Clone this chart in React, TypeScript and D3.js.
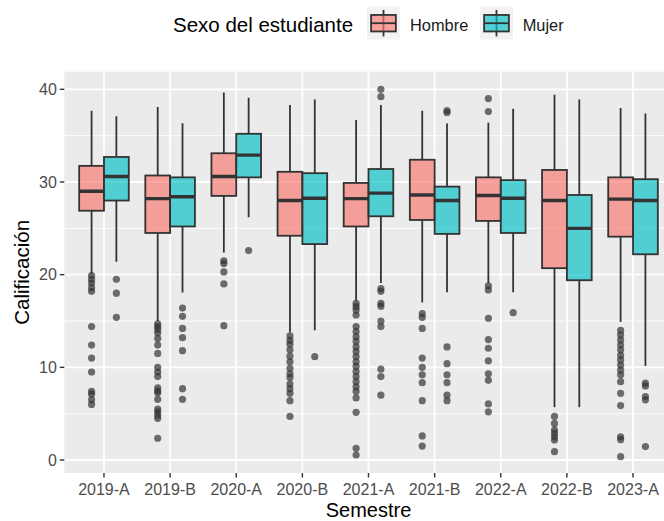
import React from "react";
import * as d3 from "d3";

const semestres = ["2019-A", "2019-B", "2020-A", "2020-B", "2021-A", "2021-B", "2022-A", "2022-B", "2023-A"];
const sexos = ["Hombre", "Mujer"];
const colores = ["#F8766D", "#00BFC4"];
const yTicks = [0, 10, 20, 30, 40];
const yMinor = [5, 15, 25, 35];

// Hombre
const hombreLow = [20.1, 15.0, 22.4, 13.8, 17.2, 17.0, 19.1, 5.7, 14.9];
const hombreQ1 = [26.9, 24.5, 28.5, 24.2, 25.2, 25.9, 25.8, 20.7, 24.1];
const hombreMed = [29.0, 28.2, 30.6, 28.0, 28.2, 28.6, 28.55, 28.0, 28.15];
const hombreQ3 = [31.74, 30.7, 33.1, 31.1, 29.9, 32.4, 30.5, 31.3, 30.5];
const hombreHigh = [37.7, 38.1, 39.66, 38.3, 36.7, 37.7, 36.4, 39.4, 37.97];
const hombreOut = [
  [19.9, 19.5, 19.1, 18.6, 18.2, 14.4, 12.4, 11.0, 9.5, 7.4, 7.1, 6.5, 6.0],
  [14.7, 14.4, 14.1, 13.7, 13.1, 12.4, 11.5, 10.0, 9.5, 9.0, 7.8, 7.45, 7.27, 6.55, 5.5, 5.2, 4.86, 4.5, 2.35],
  [21.5, 21.2, 20.3, 19.0, 14.5],
  [13.4, 12.9, 12.5, 11.9, 11.2, 10.6, 9.9, 9.3, 8.9, 8.2, 7.7, 7.2, 6.4, 4.7],
  [16.9, 16.55, 16.2, 15.65, 14.4, 13.85, 13.3, 12.8, 12.2, 11.7, 11.15, 10.6, 10.1, 9.55, 9.0, 8.45, 7.9, 7.4, 6.7, 5.15, 1.26, 0.54],
  [15.8, 15.4, 14.2, 11.0, 10.0, 9.2, 8.35, 6.4, 2.6, 1.5],
  [39.0, 37.6, 18.8, 18.35, 15.3, 13.0, 12.06, 10.7, 9.3, 8.6, 6.05, 5.2],
  [4.7, 3.95, 3.24, 2.9, 2.5, 2.16, 0.9],
  [14.0, 13.5, 12.95, 12.4, 11.9, 11.3, 10.8, 10.25, 9.7, 9.2, 8.45, 7.2, 5.87, 2.5, 2.2, 0.36],
];

// Mujer
const mujerLow = [21.4, 18.07, 26.2, 14.0, 19.1, 18.1, 18.1, 5.7, 10.15];
const mujerQ1 = [28.0, 25.2, 30.5, 23.3, 26.3, 24.4, 24.5, 19.4, 22.2];
const mujerMed = [30.6, 28.4, 32.9, 28.25, 28.8, 28.0, 28.25, 25.0, 28.0];
const mujerQ3 = [32.7, 30.5, 35.2, 30.95, 31.4, 29.5, 30.2, 28.6, 30.3];
const mujerHigh = [37.1, 36.35, 39.1, 38.9, 38.3, 36.3, 37.9, 38.9, 37.4];
const mujerOut = [
  [19.5, 18.0, 15.4],
  [16.4, 15.5, 14.2, 13.2, 11.8, 7.7, 6.55],
  [22.6],
  [11.15],
  [40.0, 39.2, 18.5, 18.2, 16.9, 16.6, 15.0, 14.4, 9.8, 9.0, 7.0],
  [37.7, 37.5, 12.2, 10.4, 9.2, 8.35, 7.0, 6.4],
  [15.9],
  [],
  [8.3, 8.0, 6.85, 6.5, 1.45],
];

const groups = [
  { low: hombreLow, q1: hombreQ1, med: hombreMed, q3: hombreQ3, high: hombreHigh, out: hombreOut },
  { low: mujerLow, q1: mujerQ1, med: mujerMed, q3: mujerQ3, high: mujerHigh, out: mujerOut },
];

const W = 664;
const H = 521;
const panel = { left: 64.3, right: 672.7, top: 71.7, bottom: 473 };
const FONT = "'Liberation Sans', Arial, Helvetica, sans-serif";

export default function App() {
  const x = d3.scalePoint<string>().domain(semestres).range([panel.left, panel.right]).padding(0.6);
  const y = d3.scaleLinear().domain([-1.4, 41.9]).range([panel.bottom, panel.top]);
  const step = x.step();
  const dodge = d3.scaleBand<string>().domain(sexos).range([-0.375 * step, 0.375 * step]);
  const bw = dodge.bandwidth();
  const boxStroke = "#333333";

  return (
    <svg width={W} height={H} style={{ position: "absolute", left: 0, top: 0, background: "#fff" }} fontFamily={FONT}>
      <defs>
        <clipPath id="pclip">
          <rect x={panel.left} y={panel.top} width={panel.right - panel.left} height={panel.bottom - panel.top} />
        </clipPath>
      </defs>
      <rect x={panel.left} y={panel.top} width={panel.right - panel.left} height={panel.bottom - panel.top} fill="#EBEBEB" />
      <g clipPath="url(#pclip)">
        {yMinor.map((t) => (
          <line key={"mn" + t} x1={panel.left} x2={panel.right} y1={y(t)} y2={y(t)} stroke="#fff" strokeWidth={0.9} />
        ))}
        {yTicks.map((t) => (
          <line key={"mj" + t} x1={panel.left} x2={panel.right} y1={y(t)} y2={y(t)} stroke="#fff" strokeWidth={1.8} />
        ))}
        {semestres.map((s) => (
          <line key={"vx" + s} x1={x(s)} x2={x(s)} y1={panel.top} y2={panel.bottom} stroke="#fff" strokeWidth={1.8} />
        ))}
        {semestres.map((s, i) =>
          groups.map((g, gi) => {
            const x0 = (x(s) as number) + (dodge(sexos[gi]) as number);
            const cx = x0 + bw / 2;
            return (
              <g key={s + gi}>
                <line x1={cx} x2={cx} y1={y(g.q3[i])} y2={y(g.high[i])} stroke={boxStroke} strokeWidth={1.8} />
                <line x1={cx} x2={cx} y1={y(g.q1[i])} y2={y(g.low[i])} stroke={boxStroke} strokeWidth={1.8} />
                <rect x={x0} y={y(g.q3[i])} width={bw} height={y(g.q1[i]) - y(g.q3[i])} fill={colores[gi]} fillOpacity={0.66} stroke={boxStroke} strokeWidth={1.8} />
                <line x1={x0} x2={x0 + bw} y1={y(g.med[i])} y2={y(g.med[i])} stroke={boxStroke} strokeWidth={3.4} />
                {g.out[i].map((v, k) => (
                  <circle key={k} cx={cx} cy={y(v)} r={3.6} fill="#333333" fillOpacity={0.7} />
                ))}
              </g>
            );
          })
        )}
      </g>
      {/* y axis */}
      {yTicks.map((t) => (
        <g key={"yt" + t}>
          <line x1={panel.left - 4.5} x2={panel.left} y1={y(t)} y2={y(t)} stroke="#333" strokeWidth={1.4} />
          <text x={panel.left - 7.5} y={y(t)} dy="0.35em" textAnchor="end" fontSize={16} fill="#4D4D4D">{t}</text>
        </g>
      ))}
      {/* x axis */}
      {semestres.map((s) => (
        <g key={"xt" + s}>
          <line x1={x(s)} x2={x(s)} y1={panel.bottom} y2={panel.bottom + 4.5} stroke="#333" strokeWidth={1.4} />
          <text x={x(s)} y={495.2} textAnchor="middle" fontSize={16} fill="#4D4D4D">{s}</text>
        </g>
      ))}
      <text x={(panel.left + panel.right) / 2} y={516.8} textAnchor="middle" fontSize={20} fill="#000">Semestre</text>
      <text transform={`translate(28.5, ${(panel.top + panel.bottom) / 2}) rotate(-90)`} textAnchor="middle" fontSize={20.5} fill="#000">Calificación</text>
      {/* legend */}
      <text x={173} y={32} fontSize={20.5} fill="#000">Sexo del estudiante</text>
      {sexos.map((s, gi) => {
        const kx = gi === 0 ? 367 : 480;
        const ky = 6.7;
        const ks = 33;
        const lx = gi === 0 ? 410 : 522.7;
        return (
          <g key={"lg" + s}>
            <rect x={kx} y={ky} width={ks} height={ks} fill="#F2F2F2" />
            <line x1={kx + ks / 2} x2={kx + ks / 2} y1={ky + ks * 0.1} y2={ky + ks * 0.9} stroke={boxStroke} strokeWidth={1.8} />
            <rect x={kx + ks * 0.125} y={ky + ks * 0.25} width={ks * 0.75} height={ks * 0.5} fill={colores[gi]} fillOpacity={0.66} stroke={boxStroke} strokeWidth={1.8} />
            <line x1={kx + ks * 0.125} x2={kx + ks * 0.875} y1={ky + ks / 2} y2={ky + ks / 2} stroke={boxStroke} strokeWidth={1.8} />
            <text x={lx} y={30.5} fontSize={16.4} fill="#1A1A1A">{s}</text>
          </g>
        );
      })}
    </svg>
  );
}
